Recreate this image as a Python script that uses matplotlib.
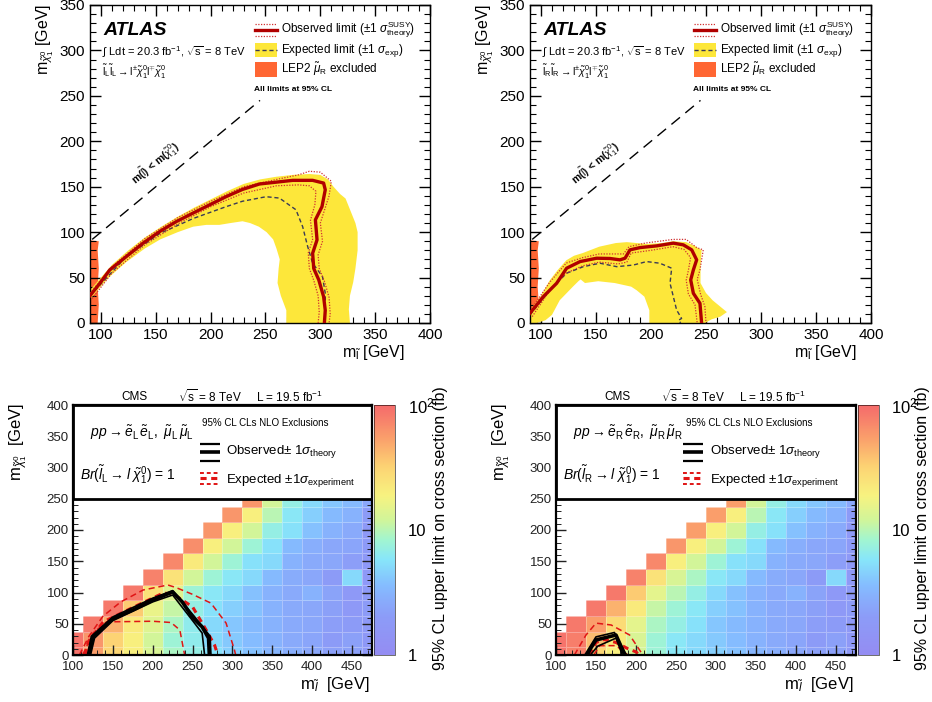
import numpy as np
import matplotlib
matplotlib.use('Agg')
import matplotlib.pyplot as plt
from matplotlib.colors import LinearSegmentedColormap, LogNorm
from matplotlib.patches import Rectangle, Polygon
from matplotlib.ticker import MultipleLocator
from matplotlib.lines import Line2D

plt.rcParams['font.family'] = ['Liberation Sans', 'DejaVu Sans']
plt.rcParams['mathtext.fontset'] = 'custom'
plt.rcParams['mathtext.rm'] = 'Liberation Sans'
plt.rcParams['mathtext.it'] = 'Liberation Sans:italic'
plt.rcParams['mathtext.bf'] = 'Liberation Sans:bold'
plt.rcParams['mathtext.sf'] = 'Liberation Sans'

nan = np.nan

# ---------------- ATLAS left-handed sleptons ----------------
atlL_obs_x = [90, 99, 108, 123, 138.5, 153.6, 168.8, 184, 199, 214, 229, 244.5, 259.7, 274.8, 293, 303, 304.5, 301.5, 295.5, 297, 293, 294, 298.6, 303, 304.5, 303.7]
atlL_obs_y = [30, 43.7, 58.4, 73, 88, 100.7, 111.7, 121, 130, 139, 147, 153, 155, 157, 157, 154, 146.6, 128, 113.6, 91.5, 76.8, 60, 47.4, 29, 14, 0]
atlL_up_x = [90, 110, 140, 170, 200, 230, 260, 280, 290, 300, 310, 308, 304, 300, 302, 298, 299, 304, 308, 309, 308]
atlL_up_y = [33, 62, 93, 116, 134, 150, 158, 163, 167, 166, 156, 140, 125, 110, 90, 75, 60, 45, 28, 10, 0]
atlL_dn_x = [92, 110, 140, 170, 200, 230, 260, 280, 290, 296, 295, 291, 293, 289, 290, 294, 298, 299, 298]
atlL_dn_y = [27, 55, 86, 109, 128, 143, 151, 152, 151, 145, 130, 113, 92, 77, 60, 47, 30, 12, 0]
atlL_exp_x = [90, 123, 153.6, 184, 214, 229, 250.6, 262.7, 277.8, 283.9, 288.5, 293, 302, 304.5, 304.5, 304]
atlL_exp_y = [30, 73, 98.5, 115, 128, 134, 139, 137.5, 124.6, 106, 84, 65.8, 51, 32.7, 10.7, 0]
atlL_band_x = [90, 100, 110, 125, 140, 155, 170, 185, 200, 215, 230, 245, 260, 275, 290, 300, 307, 312, 318, 323, 328, 332, 334, 334, 332, 330, 327, 326, 327,
               269, 269, 264, 261, 262, 263, 260, 257, 251, 244, 236, 229, 218, 208, 196, 184, 170, 154, 140, 123, 108, 99, 90]
atlL_band_y = [36, 50, 64, 80, 94, 106, 117, 127, 136, 145, 153, 158, 161, 163, 164, 163, 158, 150, 142, 137, 122, 110, 100, 80, 60, 45, 30, 15, 0,
               0, 14, 30, 44, 60, 70, 82, 92, 100, 106, 110, 112, 110, 108, 108, 106, 100, 92, 82, 67, 51, 39, 26]

# ---------------- ATLAS right-handed sleptons ----------------
atlR_obs_x = [90, 102.1, 114.2, 123.3, 135.5, 150.6, 162.7, 171.8, 176.4, 180.9, 190, 205.2, 220.3, 229.4, 237, 241.5, 238.5, 236.1, 238.5, 244.5, 246]
atlR_obs_y = [10.7, 29, 43.7, 60.3, 67.6, 71.3, 71, 69.5, 71.3, 80.5, 83, 84.9, 87.9, 86, 80.5, 69.5, 58.4, 47.4, 32.7, 21.7, 0]
atlR_up_x = [90, 108, 123, 138, 153, 168, 175, 180, 195, 220, 232, 241.5, 247.5, 244.5, 242, 245, 249, 250]
atlR_up_y = [13, 45, 66, 72, 76, 76, 76, 84, 88, 92, 92, 83, 80.5, 58.4, 48, 32, 18, 0]
atlR_dn_x = [92, 108, 123, 138, 153, 170, 178, 182, 200, 220, 230, 236, 234, 232, 234, 240, 242]
atlR_dn_y = [7, 36, 55, 63, 67, 65, 67, 77, 80, 84, 81, 72, 58, 47, 32, 20, 0]
atlR_exp_x = [90, 108, 123.3, 138.5, 153.6, 168.8, 184, 196, 208, 218.8, 217.3, 220.3, 223.3, 227.8, 225, 227]
atlR_exp_y = [9, 36.4, 54.8, 62, 65.8, 62, 63.8, 67.6, 65.8, 60.3, 43.7, 29, 14.3, 5, 3, 0]
atlR_band_x = [90, 100, 108, 115, 123, 130, 138, 153, 168, 178, 196, 210, 220, 232, 241, 246, 245, 245, 250, 256, 263, 269, 263, 255, 249,
               198.5, 198.5, 194, 187, 182, 167, 152, 140, 136, 134, 129, 121, 117, 110, 104, 96, 90]
atlR_band_y = [14, 30, 47, 58, 69, 74, 77, 84, 88, 89, 87, 88, 90, 89, 84, 80, 62, 44, 33, 25, 18, 12, 7, 4, 0,
               0, 14, 29, 36, 40, 44, 46, 44, 48, 46, 40, 30, 25, 9, 3, 0, 0]

lep_x = [90, 97, 98, 97, 98, 97, 98, 90]
lep_y = [0, 0, 20, 40, 60, 80, 90, 91]
diag_m = [92, 245]

# ---------------- CMS grids ----------------
cms_mslep = [100, 125, 150, 175, 200, 225, 250, 275, 300, 325, 350, 375, 400, 425, 450, 475]
cms_mlsp = [0, 25, 50, 75, 100, 125, 150, 175, 200, 225, 250]

cmsL_limit = [
    [90, 55, 30, 20, 13, 9, 7, 5.5, 4.5, 3.8, 3.2, 2.8, 2.5, 2.2, 2.2, 1.7],
    [90, 60, 32, 20, 12, 8, 6.5, 5, 4.2, 3.6, 3, 2.6, 2.4, 2, 2.2, 1.7],
    [nan, 85, 45, 22, 14, 9, 6.5, 5, 4, 3.5, 3, 2.6, 2.5, 2.1, 2, 1.8],
    [nan, nan, 85, 35, 16, 11, 7, 5.5, 4.5, 3.8, 3, 2.6, 2.5, 2.2, 1.8, 2],
    [nan, nan, nan, 85, 25, 14, 8, 6, 5, 3.8, 3, 2.6, 3, 2.3, 1.8, 1.9],
    [nan, nan, nan, nan, 75, 25, 12, 8, 6, 5, 3.5, 2.7, 2.5, 2, 5, 1.8],
    [nan, nan, nan, nan, nan, 70, 22, 12, 8, 5.5, 5, 3, 2.6, 2.5, 2.1, 1.8],
    [nan, nan, nan, nan, nan, nan, 65, 20, 12, 8, 5.5, 3.5, 2.8, 2.5, 2.4, 1.9],
    [nan, nan, nan, nan, nan, nan, nan, 60, 20, 12, 7, 5.5, 3.8, 3, 2.6, 1.8],
    [nan, nan, nan, nan, nan, nan, nan, nan, 60, 20, 10, 6, 4.5, 3.5, 3, 2],
    [nan, nan, nan, nan, nan, nan, nan, nan, nan, 60, 12, 7, 5, 4, 3.5, 2.5],
]
cmsR_limit = [
    [90, 75, 30, 20, 12, 8, 6, 5, 4.5, 3.8, 3.2, 2.8, 2.5, 2.2, 2.2, 1.7],
    [90, 80, 40, 22, 13, 8, 6, 5, 4.2, 3.6, 3, 2.6, 2.4, 2, 2.2, 1.7],
    [nan, 85, 55, 28, 15, 9, 7, 5.5, 4, 3.5, 3, 2.6, 2.5, 2.1, 2, 1.8],
    [nan, nan, 85, 45, 22, 11, 8, 6, 4.5, 3.8, 3, 2.6, 2.5, 2.2, 1.8, 2],
    [nan, nan, nan, 85, 35, 15, 10, 7, 5, 3.8, 3, 2.6, 3, 2.3, 1.8, 1.9],
    [nan, nan, nan, nan, 75, 25, 13, 9, 6, 5, 3.5, 2.7, 2.5, 2, 5, 1.8],
    [nan, nan, nan, nan, nan, 70, 20, 12, 8, 5.5, 5, 3, 2.6, 2.5, 2.1, 1.8],
    [nan, nan, nan, nan, nan, nan, 60, 20, 12, 8, 5.5, 3.5, 2.8, 2.5, 2.4, 1.9],
    [nan, nan, nan, nan, nan, nan, nan, 55, 20, 12, 7, 5.5, 3.8, 3, 2.6, 1.8],
    [nan, nan, nan, nan, nan, nan, nan, nan, 55, 20, 10, 6, 4.5, 3.5, 3, 2],
    [nan, nan, nan, nan, nan, nan, nan, nan, nan, 55, 12, 7, 5, 4, 3.5, 2.5],
]

cmsL_obs_x = [120, 125, 150, 175, 200, 225, 237, 250, 262, 270, 271]
cmsL_obs_y = [0, 29, 58, 72, 88, 101, 85, 60, 45, 27, 0]
cmsL_up_x = [118, 123, 150, 200, 225, 252, 272, 273]
cmsL_up_y = [0, 30, 61, 91, 103, 62, 30, 0]
cmsL_dn_x = [122, 127, 150, 200, 225, 250, 262, 265]
cmsL_dn_y = [0, 27, 55, 85, 96, 55, 35, 0]
cmsL_exp_x = [115, 119, 138, 175, 213, 225, 250, 267, 277.5, 281.7]
cmsL_exp_y = [0, 21, 53, 76, 99, 98, 77, 40, 16, 0]
cmsL_expup_x = [108, 120, 137.5, 160, 188, 219, 229, 250, 273, 292, 302.5, 304]
cmsL_expup_y = [0, 30, 62, 85, 104, 112, 108, 97, 83, 51, 8, 0]
cmsL_expdn_x = [112, 125, 142, 200, 223, 234, 240]
cmsL_expdn_y = [0, 35, 53, 54, 52, 40, 0]

cmsR_obs_x = [139, 143, 150, 175, 186]
cmsR_obs_y = [0, 10, 24, 32, 0]
cmsR_up_x = [136, 150, 173, 188]
cmsR_up_y = [0, 29, 36, 0]
cmsR_dn_x = [143, 152, 175, 183]
cmsR_dn_y = [0, 14, 27, 0]
cmsR_exp_x = [142, 150, 160, 175, 190, 200, 204]
cmsR_exp_y = [0, 20, 25, 20, 10, 5, 0]
cmsR_expup_x = [123, 137.5, 150, 169, 192, 206, 209]
cmsR_expup_y = [0, 32, 51, 48, 32, 5, 0]
cmsR_expdn_x = [147, 155, 175, 190]
cmsR_expdn_y = [0, 15, 15, 0]

# ---------------- figure ----------------
fig = plt.figure(figsize=(9.32, 7.02), dpi=100)
W, H = 932.0, 702.0

def fr(px0, py0, px1, py1):
    return [px0 / W, 1 - py1 / H, (px1 - px0) / W, (py1 - py0) / H]

YEL = '#fde73a'
LEPC = '#ff6633'
DRED = '#b00000'
LRED = '#d03030'


def atlas_panel(ax, ox, oy, ux, uy, dx, dy, ex, ey, bx, by, proc, lx0):
    ax.set_xlim(90, 400)
    ax.set_ylim(0, 350)
    ax.add_patch(Polygon(np.column_stack([lep_x, lep_y]), closed=True, fc=LEPC, ec='none', zorder=1))
    ax.add_patch(Polygon(np.column_stack([bx, by]), closed=True, fc=YEL, ec='none', zorder=2))
    ax.plot(ex, ey, color='#3a3a55', lw=1.0, ls=(0, (3, 2)), zorder=3)
    ax.plot(ux, uy, color=LRED, lw=0.9, ls=(0, (1, 1.2)), zorder=3)
    ax.plot(dx, dy, color=LRED, lw=0.9, ls=(0, (1, 1.2)), zorder=3)
    ax.plot(ox, oy, color=DRED, lw=2.4, zorder=4)
    ax.plot(diag_m, diag_m, color='k', lw=1.0, ls=(0, (8, 5)), zorder=3)
    ax.text(150, 175, r'm($\tilde{\rm l}$) < m($\tilde{\chi}^{0}_{1}$)', rotation=39.5, fontsize=7.5,
            fontweight='bold', ha='center', va='center', zorder=5)
    ax.text(0.038, 0.921, 'ATLAS', transform=ax.transAxes, fontsize=14, fontweight='bold',
            fontstyle='italic', ha='left', va='center')
    ax.text(0.036, 0.852, r'$\int$ Ldt = 20.3 fb$^{-1}$, $\sqrt{\rm s}$ = 8 TeV', transform=ax.transAxes,
            fontsize=8, ha='left', va='center')
    ax.text(0.036, 0.79, proc, transform=ax.transAxes, fontsize=7.5, ha='left', va='center')
    ax.text(lx0, 0.733, 'All limits at 95% CL', transform=ax.transAxes, fontsize=6,
            fontweight='bold', ha='left', va='center')
    # legend
    x0, x1 = lx0 + 0.004, lx0 + 0.068
    tr = ax.transAxes
    for yy in (0.940, 0.902):
        ax.add_line(Line2D([x0, x1], [yy, yy], transform=tr, color=LRED, lw=0.9, ls=(0, (1, 1.2))))
    ax.add_line(Line2D([x0, x1], [0.921, 0.921], transform=tr, color=DRED, lw=2.4))
    ax.add_patch(Rectangle((x0, 0.837), x1 - x0, 0.044, transform=tr, fc=YEL, ec='none'))
    ax.add_line(Line2D([x0, x1], [0.859, 0.859], transform=tr, color='#3a3a55', lw=1.0, ls=(0, (3, 2))))
    ax.add_patch(Rectangle((x0, 0.774), x1 - x0, 0.047, transform=tr, fc=LEPC, ec='none'))
    tx = lx0 + 0.08
    ax.text(tx, 0.921, r'Observed limit ($\pm$1 $\sigma^{\rm SUSY}_{\rm theory}$)', transform=tr, fontsize=8.5, va='center')
    ax.text(tx, 0.858, r'Expected limit ($\pm$1 $\sigma_{\rm exp}$)', transform=tr, fontsize=8.5, va='center')
    ax.text(tx, 0.797, r'LEP2 $\tilde{\mu}_{\rm R}$ excluded', transform=tr, fontsize=8.5, va='center')
    ax.xaxis.set_major_locator(MultipleLocator(50))
    ax.xaxis.set_minor_locator(MultipleLocator(10))
    ax.yaxis.set_major_locator(MultipleLocator(50))
    ax.yaxis.set_minor_locator(MultipleLocator(10))
    ax.tick_params(which='both', direction='in', top=True, right=True, labelsize=11)
    ax.tick_params(which='major', length=8, width=1)
    ax.tick_params(which='minor', length=4, width=0.8)
    for s in ax.spines.values():
        s.set_linewidth(1.0)


axL = fig.add_axes(fr(90, 5, 430, 323))
atlas_panel(axL, atlL_obs_x, atlL_obs_y, atlL_up_x, atlL_up_y, atlL_dn_x, atlL_dn_y,
            atlL_exp_x, atlL_exp_y, atlL_band_x, atlL_band_y,
            r'$\tilde{\rm l}_{\rm L}\tilde{\rm l}_{\rm L}\rightarrow {\rm l}^{\pm}\tilde{\chi}^{0}_{1}{\rm l}^{\mp}\tilde{\chi}^{0}_{1}$', 0.481)
axR = fig.add_axes(fr(530, 5, 871, 323))
atlas_panel(axR, atlR_obs_x, atlR_obs_y, atlR_up_x, atlR_up_y, atlR_dn_x, atlR_dn_y,
            atlR_exp_x, atlR_exp_y, atlR_band_x, atlR_band_y,
            r'$\tilde{\rm l}_{\rm R}\tilde{\rm l}_{\rm R}\rightarrow {\rm l}^{\pm}\tilde{\chi}^{0}_{1}{\rm l}^{\mp}\tilde{\chi}^{0}_{1}$', 0.478)

for px, pyx in ((405, 352), (857, 352)):
    fig.text(px / W, 1 - pyx / H, r'm$_{\tilde{\rm l}}$ [GeV]', fontsize=11.5, ha='right', va='center')
for px in (45, 485):
    fig.text(px / W, 1 - 4 / H, r'm$_{\tilde{\chi}^{0}_{1}}$ [GeV]', fontsize=11.5, rotation=90, ha='center', va='top')

# ---------------- CMS panels ----------------
cmap = LinearSegmentedColormap.from_list('paleroot', [
    (0.0, (0.58, 0.55, 0.95)),
    (0.15, (0.55, 0.61, 0.97)),
    (0.28, (0.52, 0.74, 1.0)),
    (0.38, (0.53, 0.90, 0.98)),
    (0.46, (0.63, 0.96, 0.82)),
    (0.54, (0.82, 0.96, 0.60)),
    (0.64, (0.97, 0.95, 0.50)),
    (0.76, (0.99, 0.82, 0.45)),
    (0.87, (0.98, 0.62, 0.42)),
    (1.0, (0.96, 0.42, 0.42))])

ms = np.array(cms_mslep, float)
ml = np.array(cms_mlsp, float)
xedges = np.concatenate([[ms[0]], (ms[:-1] + ms[1:]) / 2, [ms[-1]]])
yedges = np.concatenate([[ml[0]], (ml[:-1] + ml[1:]) / 2, [ml[-1] + 12.5]])
EXPRED = '#e01515'


def cms_panel(ax, cax, limit, obs, up, dn, ex, exu, exd, proc, br, xoff):
    mesh = ax.pcolormesh(xedges, yedges, np.ma.masked_invalid(np.array(limit, float)), cmap=cmap,
                         norm=LogNorm(1, 100), edgecolors=(1, 1, 1, 0.3), linewidth=0.4, zorder=1)
    ax.set_xlim(100, 475)
    ax.set_ylim(0, 400)
    ax.plot(exu[0], exu[1], color=EXPRED, lw=1.1, ls=(0, (4, 2.5)), zorder=3)
    ax.plot(exd[0], exd[1], color=EXPRED, lw=1.1, ls=(0, (4, 2.5)), zorder=3)
    ax.plot(ex[0], ex[1], color=EXPRED, lw=2.2, ls=(0, (2, 1.5)), zorder=3)
    ax.plot(up[0], up[1], color='k', lw=1.2, zorder=4)
    ax.plot(dn[0], dn[1], color='k', lw=1.2, zorder=4)
    ax.plot(obs[0], obs[1], color='k', lw=2.6, zorder=4)
    ax.add_patch(Rectangle((100, 250), 375, 150, fc='white', ec='black', lw=2, zorder=5))
    ax.text(121, 356, proc, fontsize=10, ha='left', va='center', zorder=6)
    ax.text(109, 288, br, fontsize=10, ha='left', va='center', zorder=6)
    ax.text(262, 372, '95% CL CLs NLO Exclusions', fontsize=7, ha='left', va='center', zorder=6)
    for yy, lw in ((337, 1.6), (325, 2.6), (311, 1.6)):
        ax.plot([259, 284], [yy, yy], color='k', lw=lw, zorder=6, solid_capstyle='butt')
    for yy, lw in ((292, 1.4), (283, 2.2), (274, 1.4)):
        ax.plot([259, 284], [yy, yy], color=EXPRED, lw=lw, ls=(0, (2, 1.5)), zorder=6)
    ax.text(292, 326, r'Observed$\pm$ 1$\sigma_{\rm theory}$', fontsize=9.5, va='center', zorder=6)
    ax.text(292, 280, r'Expected $\pm$1$\sigma_{\rm experiment}$', fontsize=9.5, va='center', zorder=6)
    ax.xaxis.set_major_locator(MultipleLocator(50))
    ax.xaxis.set_minor_locator(MultipleLocator(10))
    ax.yaxis.set_major_locator(MultipleLocator(50))
    ax.yaxis.set_minor_locator(MultipleLocator(10))
    ax.set_xticks([100, 150, 200, 250, 300, 350, 400, 450])
    ax.tick_params(which='both', direction='in', top=True, right=True, labelsize=9.5, colors='#222222')
    ax.tick_params(which='major', length=7, width=1)
    ax.tick_params(which='minor', length=3.5, width=0.7)
    ax.tick_params(axis='x', pad=4.5)
    ax.tick_params(axis='y', pad=3)
    for s in ax.spines.values():
        s.set_linewidth(1.6)
        s.set_zorder(7)
    cb = fig.colorbar(mesh, cax=cax)
    cb.set_ticks([1, 10, 100])
    cb.set_ticklabels(['1', '10', r'10$^{2}$'])
    cb.ax.minorticks_off()
    cb.ax.tick_params(labelsize=12, length=0, pad=9)
    cb.outline.set_linewidth(0.4)
    # header
    yh = 1 - 397 / H
    fig.text((134 + xoff) / W, yh, 'CMS', fontsize=8.5, ha='center', va='center')
    fig.text((210 + xoff) / W, yh, r'$\sqrt{\rm s}$ = 8 TeV', fontsize=8.5, ha='center', va='center')
    fig.text((290 + xoff) / W, yh, r'L = 19.5 fb$^{-1}$', fontsize=8.5, ha='center', va='center')


bL = fig.add_axes(fr(73, 405, 372, 655))
cL = fig.add_axes(fr(374, 405, 395, 655))
cms_panel(bL, cL, cmsL_limit, (cmsL_obs_x, cmsL_obs_y), (cmsL_up_x, cmsL_up_y), (cmsL_dn_x, cmsL_dn_y),
          (cmsL_exp_x, cmsL_exp_y), (cmsL_expup_x, cmsL_expup_y), (cmsL_expdn_x, cmsL_expdn_y),
          r'$pp\rightarrow\tilde{e}_{\rm L}\,\tilde{e}_{\rm L},\ \tilde{\mu}_{\rm L}\,\tilde{\mu}_{\rm L}$',
          r'$Br(\tilde{l}_{\rm L}\rightarrow l\ \tilde{\chi}^{0}_{1})$ = 1', 0)
bR = fig.add_axes(fr(556, 405, 856, 655))
cR = fig.add_axes(fr(858, 405, 879, 655))
cms_panel(bR, cR, cmsR_limit, (cmsR_obs_x, cmsR_obs_y), (cmsR_up_x, cmsR_up_y), (cmsR_dn_x, cmsR_dn_y),
          (cmsR_exp_x, cmsR_exp_y), (cmsR_expup_x, cmsR_expup_y), (cmsR_expdn_x, cmsR_expdn_y),
          r'$pp\rightarrow\tilde{e}_{\rm R}\,\tilde{e}_{\rm R},\ \tilde{\mu}_{\rm R}\,\tilde{\mu}_{\rm R}$',
          r'$Br(\tilde{l}_{\rm R}\rightarrow l\ \tilde{\chi}^{0}_{1})$ = 1', 483)

for px in (370, 854):
    fig.text(px / W, 1 - 685 / H, r'm$_{\tilde{l}}$  [GeV]', fontsize=12, ha='right', va='center')
for px in (18, 501):
    fig.text(px / W, 1 - 403 / H, r'm$_{\tilde{\chi}^{0}_{1}}$  [GeV]', fontsize=12, rotation=90, ha='center', va='top')
for px in (440, 923):
    fig.text(px / W, 1 - 528 / H, '95% CL upper limit on cross section (fb)', fontsize=11.5,
             rotation=90, ha='center', va='center')

fig.savefig('out.png', dpi=100)
